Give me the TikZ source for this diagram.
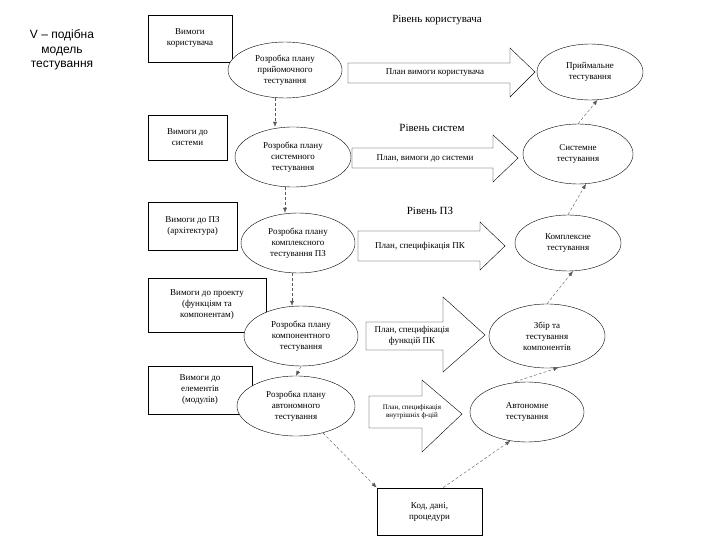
\documentclass[tikz,border=0pt]{standalone}
\usepackage{fontspec}
\setmainfont{Liberation Serif}
\newfontfamily\ttlfont{Liberation Sans}
\usetikzlibrary{shapes.geometric,arrows.meta}
\begin{document}
\begin{tikzpicture}[x=1pt,y=-1pt,
  bx/.style={draw,thick,align=center,font=\fontsize{9}{11}\selectfont,inner sep=0},
  el/.style={draw,ellipse,align=center,font=\fontsize{9}{11}\selectfont,inner sep=0},
  lbl/.style={align=center,font=\fontsize{9}{11}\selectfont},
  lvl/.style={font=\fontsize{11}{13}\selectfont},
  dsh/.style={densely dashed,gray!70!black,-{Latex[length=5pt,width=4pt]}},
  blk/.style={draw,fill=white}]
\useasboundingbox (0,0) rectangle (720,540);
\node[font=\ttlfont\fontsize{12}{14.5}\selectfont,align=center] (ttl) at (62,50) {V – подібна\\модель\\тестування};
% boxes
\node[bx,minimum width=84,minimum height=47] (b1) at (190,38.5) {Вимоги\\користувача};
\node[bx,minimum width=79,minimum height=45] (b2) at (187.5,137.5) {Вимоги до\\системи};
\node[bx,minimum width=89,minimum height=48] (b3) at (192.5,226) {Вимоги до ПЗ\\(архітектура)};
\node[bx,minimum width=118,minimum height=54] (b4) at (207,305) {Вимоги до проекту\\(функціям та\\компонентам)};
\node[bx,minimum width=104,minimum height=48] (b5) at (200,390) {Вимоги до\\елементів\\(модулів)};
\node[bx,minimum width=105,minimum height=47] (b6) at (429.5,511.5) {Код, дані,\\процедури};
% level labels
\node[lvl] (l1) at (437,20) {Рівень користувача};
\node[lvl] (l2) at (432,128) {Рівень систем};
\node[lvl] (l3) at (430,211) {Рівень ПЗ};
% block arrows
\draw[blk] (348,63) -- (510,63) -- (510,48) -- (535,72) -- (510,97) -- (510,83) -- (348,83) -- cycle;
\node[lbl] (a1) at (435,73) {План вимоги користувача};
\draw[blk] (352,148) -- (493,148) -- (493,135) -- (518,158) -- (493,182) -- (493,168) -- (352,168) -- cycle;
\node[lbl] (a2) at (425,158) {План, вимоги до системи};
\draw[blk] (358,231) -- (480,231) -- (480,222) -- (505,246) -- (480,270) -- (480,261) -- (358,261) -- cycle;
\node[lbl] (a3) at (420,246) {План, специфікація ПК};
\draw[blk] (366,322) -- (443,322) -- (443,297) -- (485,335) -- (443,372) -- (443,350) -- (366,350) -- cycle;
\node[lbl] (a4) at (412,336) {План, специфікація\\функцій ПК};
\draw[blk] (369,396) -- (422,396) -- (422,380) -- (462,414) -- (422,452) -- (422,428) -- (369,428) -- cycle;
\node[lbl,font=\fontsize{7}{8.5}\selectfont] (a5) at (412,412) {План, специфікація\\внутрішніх ф-цій};
% ellipses
\node[el,fill=white,minimum width=114,minimum height=56] (e1) at (285,70) {Розробка плану\\прийомочного\\тестування};
\node[el,fill=white,minimum width=116,minimum height=60] (e2) at (293,157) {Розробка плану\\системного\\тестування};
\node[el,fill=white,minimum width=114,minimum height=60] (e3) at (298,243) {Розробка плану\\комплексного\\тестування ПЗ};
\node[el,fill=white,minimum width=114,minimum height=60] (e4) at (301,336) {Розробка плану\\компонентного\\тестування};
\node[el,fill=white,minimum width=118,minimum height=60] (e5) at (296,406) {Розробка плану\\автономного\\тестування};
\node[el,fill=white,minimum width=106,minimum height=56] (r1) at (590,72) {Приймальне\\тестування};
\node[el,fill=white,minimum width=110,minimum height=60] (r2) at (578,154) {Системне\\тестування};
\node[el,fill=white,minimum width=106,minimum height=56] (r3) at (568,243) {Комплексне\\тестування};
\node[el,fill=white,minimum width=116,minimum height=64] (r4) at (547,336) {Збір та\\тестування\\компонентів};
\node[el,fill=white,minimum width=114,minimum height=60] (r5) at (527,412) {Автономне\\тестування};
% dashed connectors
\draw[dsh] (e1.south) ++(-10,0) coordinate (s1) -- (s1 |- e2.north);
\draw[dsh] (e2.south) ++(-8,0) coordinate (s2) -- (s2 |- e3.north);
\draw[dsh] (e3.south) ++(-6,0) coordinate (s3) -- (s3 |- e4.north);
\draw[dsh] (e4.south) -- (e5.north);
\draw[dsh] (e5.-45) -- (b6.north west);
\draw[dsh] (b6.60) -- (r5.-120);
\draw[dsh] (r5.north) ++(-12,0) coordinate (s5) -- (r4.-70);
\draw[dsh] (r4.north) -- (r3.-80);
\draw[dsh] (r3.north) -- (r2.-75);
\draw[dsh] (r2.north) -- (r1.-75);
\end{tikzpicture}
\end{document}
